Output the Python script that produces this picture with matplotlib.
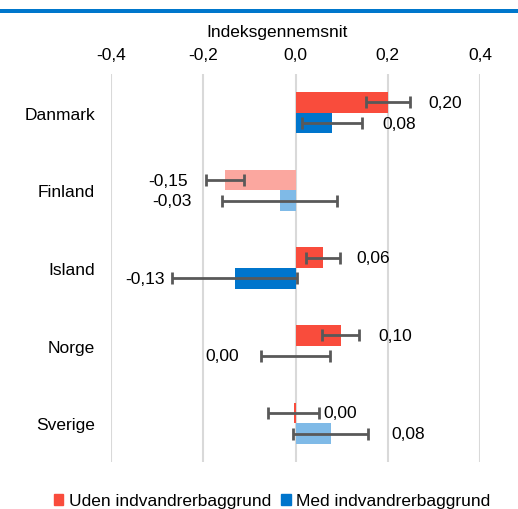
import matplotlib
matplotlib.use("Agg")
import matplotlib.pyplot as plt
from matplotlib.patches import Rectangle, Patch

plt.rcParams['font.family'] = ['Liberation Sans', 'DejaVu Sans']

countries = ["Danmark", "Finland", "Island", "Norge", "Sverige"]
series_names = ["Uden indvandrerbaggrund", "Med indvandrerbaggrund"]

uden = [0.200, -0.153, 0.059, 0.098, -0.004]
uden_err = [0.048, 0.042, 0.037, 0.040, 0.055]
uden_sig = [True, False, True, True, True]

med = [0.080, -0.034, -0.132, 0.000, 0.076]
med_err = [0.065, 0.125, 0.136, 0.075, 0.081]
med_sig = [True, False, True, True, False]

x_ticks = [-0.4, -0.2, 0.0, 0.2, 0.4]
x_title = "Indeksgennemsnit"

# label gap from the error-bar end, in pixels (negative = to the left)
uden_label_gap = [18, -18, 17, 19, 4]
med_label_gap = [20, -31, -7, -22, 23]

RED, RED_LIGHT = "#F94C3C", "#FBA79F"
BLUE, BLUE_LIGHT = "#0075CC", "#7FBAE7"
ERR = "#595959"
GRID = "#D9D9D9"

DPI = 100
fig = plt.figure(figsize=(5.18, 5.10), dpi=DPI)
ax = fig.add_axes([111 / 518, 47 / 510, 369 / 518, 388 / 510])

def fmt(v):
    s = f"{v:.2f}".replace(".", ",")
    if s == "-0,00":
        s = "0,00"
    return s

h = 0.265
off = 0.133
ys = list(range(len(countries)))

for vals, errs, sig, gaps, base, light, sign in [
    (uden, uden_err, uden_sig, uden_label_gap, RED, RED_LIGHT, -1),
    (med, med_err, med_sig, med_label_gap, BLUE, BLUE_LIGHT, 1),
]:
    for i, (v, e, s, g) in enumerate(zip(vals, errs, sig, gaps)):
        y = ys[i] + sign * off
        ax.barh(y, v, height=h, color=base if s else light, zorder=2)
        ax.errorbar(v, y, xerr=e, fmt="none", ecolor=ERR, elinewidth=2,
                    capsize=4, capthick=2, zorder=3)
        if g >= 0:
            ax.annotate(fmt(v), xy=(v + e, y), xytext=(g * 72 / DPI, 0),
                        textcoords="offset points", ha="left", va="center",
                        fontsize=12.5, color="#000000", zorder=4)
        else:
            ax.annotate(fmt(v), xy=(v - e, y), xytext=(g * 72 / DPI, 0),
                        textcoords="offset points", ha="right", va="center",
                        fontsize=12.5, color="#000000", zorder=4)

ax.set_xlim(-0.4, 0.4)
ax.set_ylim(len(countries) - 0.5, -0.5)
ax.set_xticks(x_ticks)
ax.set_xticklabels([f"{t:.1f}".replace(".", ",") for t in x_ticks])
ax.set_yticks(ys)
ax.set_yticklabels(countries)
ax.xaxis.tick_top()
ax.tick_params(axis="x", length=0, pad=9, labelsize=12.5)
ax.tick_params(axis="y", length=0, pad=11.5, labelsize=12.5)
ax.grid(axis="x", color=GRID, linewidth=1.5, zorder=0)
ax.set_axisbelow(True)
for sp in ax.spines.values():
    sp.set_visible(False)

fig.text(277.5 / 518, 1 - 33 / 510, x_title, ha="center", va="center",
         fontsize=12.5)

# accent bar across the top
fig.add_artist(Rectangle((0, 1 - 14 / 510), 1, 4 / 510, transform=fig.transFigure,
                         color="#0077CC", lw=0))

handles = [Patch(color=RED), Patch(color=BLUE)]
fig.legend(handles, series_names, loc="center", bbox_to_anchor=(272 / 518, 1 - 502 / 510),
           ncol=2, frameon=False, fontsize=12.5, handlelength=0.55, handleheight=0.55,
           handletextpad=0.3, columnspacing=0.6, borderpad=0)

fig.savefig("out.png", dpi=DPI)
